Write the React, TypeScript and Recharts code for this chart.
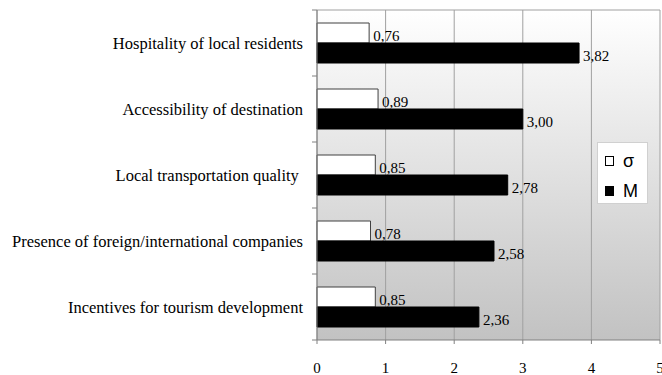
import React from 'react';
import { BarChart, Bar, XAxis, YAxis, CartesianGrid, Legend, LabelList } from 'recharts';

const categories = [
  'Hospitality of local residents',
  'Accessibility of destination',
  'Local transportation quality ',
  'Presence of foreign/international companies',
  'Incentives for tourism development',
];
const sigmaValues = [0.76, 0.89, 0.85, 0.78, 0.85];
const meanValues = [3.82, 3.0, 2.78, 2.58, 2.36];
const xTicks = [0, 1, 2, 3, 4, 5];
const seriesNames = ['σ', 'M'];

const data = categories.map((c, i) => ({ category: c, sigma: sigmaValues[i], mean: meanValues[i] }));

const SERIF = '"Liberation Serif", "Times New Roman", serif';
const SANS = '"Liberation Sans", Arial, sans-serif';
const HALF_BAND = 33;

const CategoryTick = (props: any) => {
  const { x, y, payload, index, visibleTicksCount } = props;
  const axisX = x + 14;
  const last = index === (visibleTicksCount ?? 5) - 1;
  return (
    <g>
      <line x1={axisX - 5} x2={axisX} y1={y - HALF_BAND} y2={y - HALF_BAND} stroke="#808080" />
      {last && <line x1={axisX - 5} x2={axisX} y1={y + HALF_BAND} y2={y + HALF_BAND} stroke="#808080" />}
      <text
        x={x}
        y={y}
        textAnchor="end"
        dominantBaseline="central"
        fontFamily={SERIF}
        fontSize={16.5}
        fill="#000"
        style={{ whiteSpace: 'pre' }}
      >
        {payload.value}
      </text>
    </g>
  );
};

const renderValueLabel = (props: any) => {
  const { x, y, width, height, value } = props;
  return (
    <text
      x={Number(x) + Number(width) + 4}
      y={Number(y) + Number(height) / 2 + 3}
      dominantBaseline="central"
      fontFamily={SERIF}
      fontSize={15}
      fill="#000"
    >
      {Number(value).toFixed(2).replace('.', ',')}
    </text>
  );
};

const LegendContent = () => (
  <div
    style={{
      width: 51,
      height: 62,
      background: '#fff',
      border: '1px solid #d0d0d0',
      boxSizing: 'border-box',
      fontFamily: SANS,
      fontSize: 18,
      position: 'relative',
    }}
  >
    {seriesNames.map((n, i) => (
      <div
        key={n}
        style={{ position: 'absolute', left: 7, top: 8 + i * 30, height: 20, display: 'flex', alignItems: 'center' }}
      >
        <span
          style={{
            display: 'inline-block',
            width: 9,
            height: 10,
            boxSizing: 'border-box',
            border: '1px solid #000',
            background: i === 0 ? '#fff' : '#000',
            marginRight: 9,
          }}
        />
        <span style={{ lineHeight: '20px', color: '#000' }}>{n}</span>
      </div>
    ))}
  </div>
);

export default function App() {
  return (
    <div style={{ position: 'absolute', left: 0, top: 0 }}>
      <BarChart
        width={662}
        height={375}
        data={data}
        layout="vertical"
        margin={{ top: 10, right: 2, bottom: 0, left: 0 }}
        barGap={0}
        barCategoryGap={13}
      >
        <defs>
          <linearGradient id="plotBg" x1="0" y1="0" x2="0" y2="1">
            <stop offset="0%" stopColor="#ffffff" />
            <stop offset="100%" stopColor="#c2c2c2" />
          </linearGradient>
        </defs>
        <CartesianGrid
          fill="url(#plotBg)"
          fillOpacity={1}
          stroke="#a0a0a0"
          horizontalPoints={[10]}
        />
        <XAxis
          type="number"
          domain={[0, 5]}
          ticks={xTicks}
          interval={0}
          height={35}
          tickSize={4}
          tickMargin={18}
          axisLine={{ stroke: '#808080' }}
          tickLine={{ stroke: '#808080' }}
          tick={{ fontFamily: SERIF, fontSize: 15, fill: '#000' }}
        />
        <YAxis
          type="category"
          dataKey="category"
          width={317}
          tickSize={0}
          tickMargin={14}
          interval={0}
          axisLine={{ stroke: '#808080' }}
          tickLine={false}
          tick={<CategoryTick />}
        />
        <Legend
          layout="horizontal"
          align="center"
          verticalAlign="middle"
          content={<LegendContent />}
          wrapperStyle={{ position: 'absolute', left: 597, top: 142, width: 51, height: 62 }}
        />
        <Bar dataKey="sigma" name={seriesNames[0]} fill="#ffffff" stroke="#404040" strokeWidth={1} isAnimationActive={false}>
          <LabelList dataKey="sigma" content={renderValueLabel} />
        </Bar>
        <Bar dataKey="mean" name={seriesNames[1]} fill="#000000" stroke="#000000" strokeWidth={1} isAnimationActive={false}>
          <LabelList dataKey="mean" content={renderValueLabel} />
        </Bar>
      </BarChart>
    </div>
  );
}
